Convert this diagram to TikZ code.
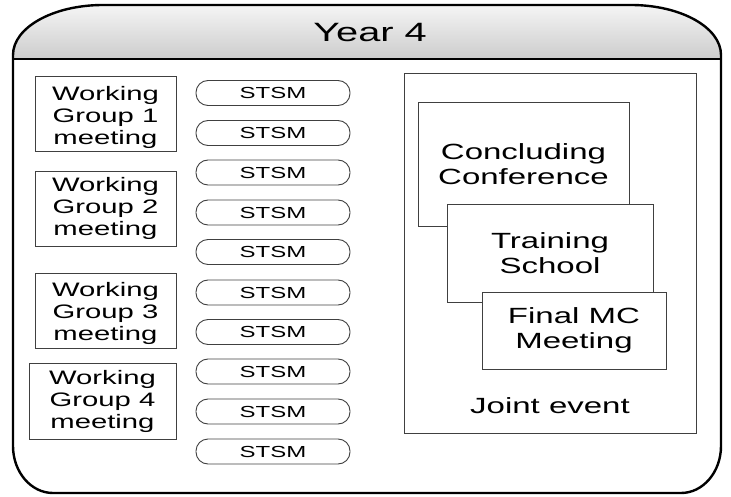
\documentclass[tikz,border=0pt]{standalone}
\usepackage{fontspec}
\setmainfont{Liberation Sans}[FakeStretch=1.5]
\begin{document}
\begin{tikzpicture}[x=1pt,y=-1pt,
  frame/.style={draw=black, line width=2.4pt, line join=round},
  wgbox/.style={draw=black!75, line width=0.9pt, minimum width=141, minimum height=75, inner sep=0},
  wgtext/.style={align=center, font=\fontsize{19.5}{22}\selectfont, inner sep=0},
  pill/.style={draw=black!75, line width=0.9pt, rounded corners=12pt, minimum width=154,
    minimum height=25, inner sep=0, font=\fontsize{16}{18}\selectfont},
  eventbox/.style={draw=black!75, line width=0.9pt, fill=white, align=center, inner sep=0,
    font=\fontsize{22}{25}\selectfont},
  eventlabel/.style={inner sep=0, font=\fontsize{22}{25}\selectfont},
  titletext/.style={inner sep=0, font=\fontsize{26.5}{30}\selectfont},
]
\useasboundingbox (0,0) rectangle (731,497);

% header band with soft vertical shading
\shade[top color=black!4, bottom color=black!20]
  (13,59) -- (13,55) arc[start angle=180, end angle=270, x radius=90, y radius=50]
  -- (631,5) arc[start angle=270, end angle=360, x radius=90, y radius=50]
  -- (721,59) -- cycle;

% outer container
\draw[frame]
  (13,55) arc[start angle=180, end angle=270, x radius=90, y radius=50]
  -- (631,5) arc[start angle=270, end angle=360, x radius=90, y radius=50]
  -- (721,446) arc[start angle=0, end angle=90, x radius=40, y radius=47]
  -- (53,493) arc[start angle=90, end angle=180, x radius=40, y radius=47]
  -- cycle;
\draw[black, line width=2pt] (13,59) -- (721,59);

\node[titletext] (title) at (370,33) {Year 4};

% working group meetings
\node[wgbox] (wg1) at (105.5,113.5) {};
\node[wgtext] (wg1t) at (105.5,117.9) {Working\\Group 1\\meeting};
\node[wgbox] (wg2) at (105.5,209) {};
\node[wgtext] (wg2t) at (105.5,208.7) {Working\\Group 2\\meeting};
\node[wgbox] (wg3) at (105.5,310.5) {};
\node[wgtext] (wg3t) at (105.5,313) {Working\\Group 3\\meeting};
\node[wgbox, minimum width=147, minimum height=76] (wg4) at (102.5,401) {};
\node[wgtext] (wg4t) at (102.5,401.4) {Working\\Group 4\\meeting};

% short term scientific missions
\foreach \yy [count=\i] in {93,133,172.5,212.5,252,292.5,332,371.5,411.5,451.5}
  \node[pill] (stsm\i) at (273,\yy) {STSM};

% joint event
\node[eventbox, minimum width=292, minimum height=360] (joint) at (550,253) {};
\node[eventbox, minimum width=211, minimum height=124] (conc) at (523.5,164) {Concluding\\Conference};
\node[eventbox, minimum width=206, minimum height=98] (train) at (550,253) {Training\\School};
\node[eventbox, minimum width=184, minimum height=77] (final) at (574,330.5) {Final MC\\Meeting};
\node[eventlabel, anchor=base] (jointlbl) at (550,413) {Joint event};
\end{tikzpicture}
\end{document}
